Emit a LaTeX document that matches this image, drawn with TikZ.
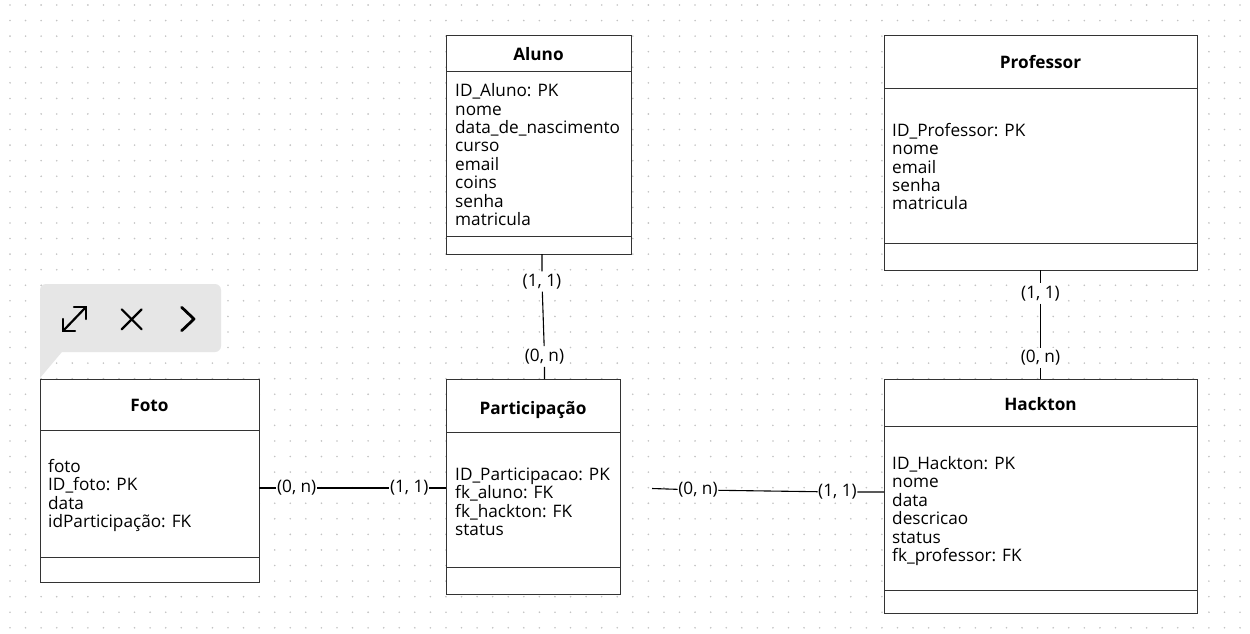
\documentclass[tikz,border=0pt]{standalone}
\usepackage{fontspec}
\setmainfont{Open Sans}
\usepackage{tikz}

\definecolor{boxline}{RGB}{51,51,51}
\definecolor{popbg}{RGB}{230,230,230}
\definecolor{dotgray}{RGB}{195,195,195}

\tikzset{
  entbox/.style={draw=boxline, fill=white, line width=1pt, inner sep=0pt, outer sep=0pt, anchor=north west},
  enttitle/.style={anchor=base, inner sep=0pt, font=\fontsize{17.2}{20}\selectfont\bfseries},
  entattr/.style={anchor=base west, inner sep=0pt},
  divline/.style={draw=boxline, line width=1pt},
  relline/.style={draw=black, line width=1.1pt},
  cardlbl/.style={fill=white, inner xsep=0.5pt, inner ysep=2.5pt},
}

\begin{document}
\begin{tikzpicture}[x=1pt, y=-1pt, font=\fontsize{17.2}{20}\selectfont]
\fill[white] (0,0) rectangle (1250,634);
\useasboundingbox (0,0) rectangle (1250,634);

% dotted grid
\foreach \i in {0,...,79}{
  \foreach \j in {0,...,40}{
    \fill[dotgray] (10+15.57*\i, 5+15.57*\j) circle (0.9);
  }
}

% popup toolbar
\fill[popbg, rounded corners=6] (40,284) rectangle (221,352);
\fill[popbg] (40,340) -- (72,340) -- (40,378) -- cycle;
\draw[line width=2.2, line cap=round, line join=round] (63,331) -- (86,307);
\draw[line width=2.2, line cap=round, line join=round] (74,307) -- (86,307) -- (86,319);
\draw[line width=2.2, line cap=round, line join=round] (63,319) -- (63,331) -- (75,331);
\draw[line width=2.2, line cap=round] (121.7,309.3) -- (141.7,329.3) (121.7,329.3) -- (141.7,309.3);
\draw[line width=2.8, line cap=round, line join=round] (181.7,307.3) -- (194,319) -- (181.7,330.7);

% Aluno
\node[entbox, minimum width=185, minimum height=218] (aluno) at (446,36) {};
\draw[divline] (446,72) -- (631,72);
\draw[divline] (446,236) -- (631,236);
\node[enttitle] (aluno-t) at (538.5,60.5) {Aluno};
\foreach \a [count=\i] in {ID\_Aluno: PK, nome, data\_de\_nascimento, curso, email, coins, senha, matricula}
  \node[entattr] (aluno-\i) at (455, 78.3+18.4*\i) {\a};

% Professor
\node[entbox, minimum width=313, minimum height=234] (prof) at (884,36) {};
\draw[divline] (884,88) -- (1197,88);
\draw[divline] (884,243) -- (1197,243);
\node[enttitle] (prof-t) at (1040.5,69) {Professor};
\foreach \a [count=\i] in {ID\_Professor: PK, nome, email, senha, matricula}
  \node[entattr] (prof-\i) at (892, 118.3+18.3*\i) {\a};

% Foto
\node[entbox, minimum width=219, minimum height=203] (foto) at (40,379) {};
\draw[divline] (40,430) -- (259,430);
\draw[divline] (40,557) -- (259,557);
\node[enttitle] (foto-t) at (149.5,411.5) {Foto};
\foreach \a [count=\i] in {foto, ID\_foto: PK, data, idParticipação: FK}
  \node[entattr] (foto-\i) at (48, 453.8+18.5*\i) {\a};

% Participacao
\node[entbox, minimum width=174, minimum height=215] (part) at (446,379) {};
\draw[divline] (446,432) -- (620,432);
\draw[divline] (446,567) -- (620,567);
\node[enttitle] (part-t) at (533,414) {Participação};
\foreach \a [count=\i] in {ID\_Participacao: PK, fk\_aluno: FK, fk\_hackton: FK, status}
  \node[entattr] (part-\i) at (455, 461.4+18.6*\i) {\a};

% Hackton
\node[entbox, minimum width=313, minimum height=234] (hack) at (884,379) {};
\draw[divline] (884,426) -- (1197,426);
\draw[divline] (884,590) -- (1197,590);
\node[enttitle] (hack-t) at (1040.5,410) {Hackton};
\foreach \a [count=\i] in {ID\_Hackton: PK, nome, data, descricao, status, fk\_professor: FK}
  \node[entattr] (hack-\i) at (892, 450.5+18.5*\i) {\a};

% relacoes
\node[cardlbl] (al11) at (542,281.5) {(1, 1)};
\node[cardlbl] (al0n) at (544.5,356.5) {(0, n)};
\draw[relline] (aluno.south -| al11) -- (al11) -- (al0n) -- (part.north -| al0n);

\node[cardlbl] (pr11) at (1040.5,293.5) {(1, 1)};
\node[cardlbl] (hk0n) at (1040.5,358) {(0, n)};
\draw[relline] (prof.south -| pr11) -- (pr11) -- (hk0n) -- (hack.north -| hk0n);

\node[cardlbl] (fo0n) at (296.7,488) {(0, n)};
\node[cardlbl] (pa11) at (409.3,488) {(1, 1)};
\draw[relline] (foto.east |- fo0n) -- (fo0n) -- (pa11) -- (part.west |- pa11);

\coordinate (pafree) at (652,488.5);
\node[cardlbl] (pa0n) at (698,490) {(0, n)};
\node[cardlbl] (hk11) at (837.5,492) {(1, 1)};
\draw[relline] (pafree) -- (pa0n) -- (hk11) -- (hack.west |- hk11);
\end{tikzpicture}
\end{document}
